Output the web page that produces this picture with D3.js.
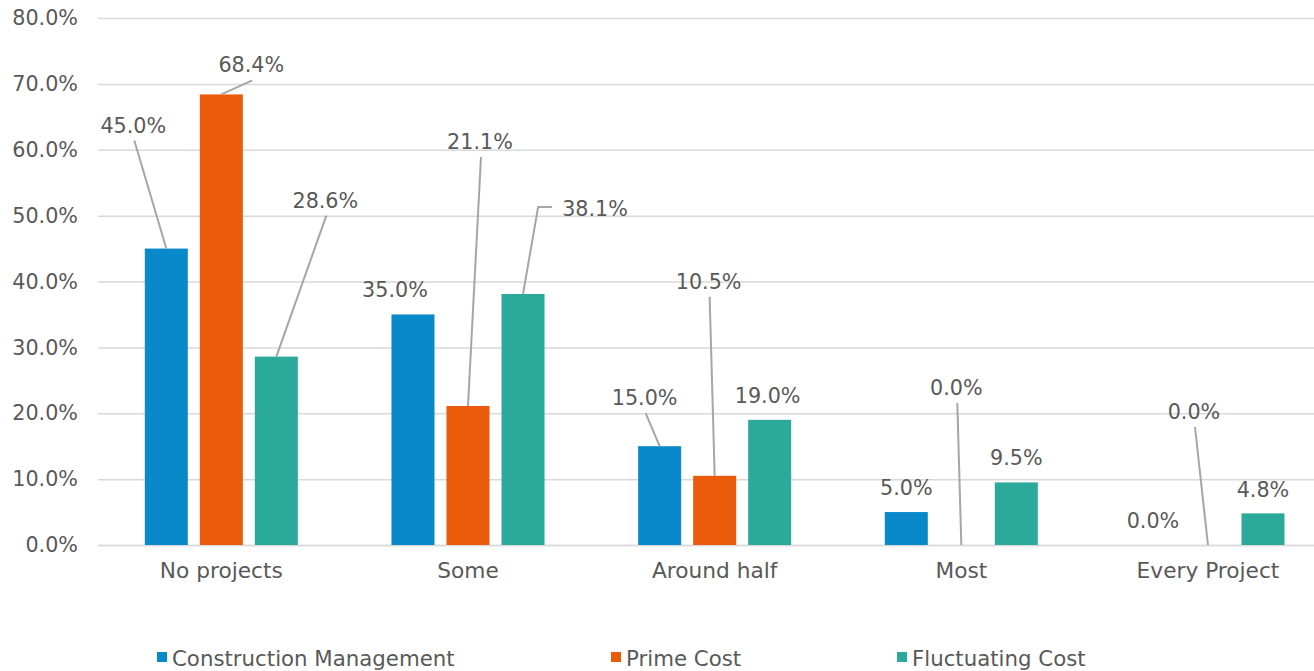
<!DOCTYPE html>
<html>
<head>
<meta charset="utf-8">
<script src="https://cdn.jsdelivr.net/npm/d3@7"></script>
<style>
  html, body { margin: 0; padding: 0; background: #fff; }
  svg { display: block; }
  text { font-family: "DejaVu Sans", sans-serif; fill: #595959; }
</style>
</head>
<body>
<svg id="chart" width="1314" height="671"></svg>
<script>
// ---- data ----
const categories = ["No projects", "Some", "Around half", "Most", "Every Project"];
const seriesNames = ["Construction Management", "Prime Cost", "Fluctuating Cost"];
const constructionManagement = [0.45, 0.35, 0.15, 0.05, 0.0];
const primeCost = [0.684, 0.211, 0.105, 0.0, 0.0];
const fluctuatingCost = [0.286, 0.381, 0.19, 0.095, 0.048];
const yTicks = [0, 0.1, 0.2, 0.3, 0.4, 0.5, 0.6, 0.7, 0.8];

// label placement (layout, pixel offsets from default position above bar)
const labelLayout = {
  "Construction Management": [[-33, -99, "bottom"], [-18, 0, null], [-15, -24, "bottom"], [0, 0, null], [0, 0, null]],
  "Prime Cost": [[30, -5, "bottom"], [12, -240, "bottom"], [-6, -170, "bottom"], [-5, -133, "bottom"], [-14, -109, "bottom"]],
  "Fluctuating Cost": [[49, -132, "bottom"], [72, -61, "elbow"], [-2, 0, null], [0, 0, null], [0, 1, null]]
};

const colors = ["#0A89CA", "#EA5C0C", "#2BA99A"];
const seriesValues = [constructionManagement, primeCost, fluctuatingCost];

const svg = d3.select("#chart");
const plotLeft = 98, plotRight = 1331.3, plotTop = 18, plotBottom = 545;

const x0 = d3.scaleBand().domain(categories).range([plotLeft, plotRight]).paddingInner(0).paddingOuter(0);
const x1 = d3.scaleBand().domain(seriesNames).range([0, x0.bandwidth()])
  .paddingInner(12 / 55).paddingOuter(46.8 / 55);
const y = d3.scaleLinear().domain([0, 0.8]).range([plotBottom, plotTop]);
const color = d3.scaleOrdinal().domain(seriesNames).range(colors);
const fmt = d3.format(".1%");

// gridlines
const yAxis = d3.axisLeft(y).tickValues(yTicks).tickFormat(fmt).tickSize(-(1314 - plotLeft)).tickPadding(20);
const gy = svg.append("g").attr("transform", `translate(${plotLeft},0)`).call(yAxis);
gy.select(".domain").remove();
gy.selectAll(".tick line").attr("stroke", "#D9D9D9").attr("stroke-width", 1.5);
gy.selectAll(".tick text").attr("font-size", 20.7).attr("fill", "#595959")
  .style("font-family", "'DejaVu Sans', sans-serif").attr("x", -20);

// x axis labels
const xAxis = d3.axisBottom(x0).tickSize(0).tickPadding(18);
const gx = svg.append("g").attr("transform", `translate(0,${plotBottom})`).call(xAxis);
gx.select(".domain").attr("stroke", "#D9D9D9").attr("stroke-width", 1.5).attr("d", `M${plotLeft},0.5H1314`);
gx.selectAll(".tick text").attr("font-size", 21.7).attr("fill", "#595959")
  .style("font-family", "'DejaVu Sans', sans-serif");

// bars
const rows = [];
seriesNames.forEach((s, si) => {
  categories.forEach((c, ci) => {
    rows.push({ series: s, cat: c, value: seriesValues[si][ci], layout: labelLayout[s][ci] });
  });
});

svg.append("g").selectAll("rect").data(rows.filter(d => d.value > 0)).join("rect")
  .attr("x", d => x0(d.cat) + x1(d.series))
  .attr("y", d => y(d.value))
  .attr("width", x1.bandwidth())
  .attr("height", d => y(0) - y(d.value))
  .attr("fill", d => color(d.series));

// labels + leaders
const leaderG = svg.append("g");
const labelG = svg.append("g");
rows.forEach(d => {
  const cx = x0(d.cat) + x1(d.series) + x1.bandwidth() / 2;
  const barTop = y(d.value);
  const lx = cx + d.layout[0];
  const ly = barTop - 17 + d.layout[1];
  const t = labelG.append("text").attr("x", lx).attr("y", ly)
    .attr("text-anchor", "middle").attr("font-size", 20.7).text(fmt(d.value));
  const kind = d.layout[2];
  if (kind === "bottom") {
    leaderG.append("path")
      .attr("d", `M${lx + 1},${ly + 8}L${cx},${barTop}`)
      .attr("stroke", "#A6A6A6").attr("stroke-width", 2).attr("fill", "none");
  } else if (kind === "elbow") {
    const w = t.node().getComputedTextLength();
    const lLeft = lx - w / 2;
    const my = ly - 9;
    leaderG.append("path")
      .attr("d", `M${lLeft - 10},${my}H${lLeft - 24}L${cx},${barTop}`)
      .attr("stroke", "#A6A6A6").attr("stroke-width", 2).attr("fill", "none");
  }
});

// legend
const legendX = [157, 611, 897];
const lg = svg.append("g");
seriesNames.forEach((s, i) => {
  lg.append("rect").attr("x", legendX[i]).attr("y", 652).attr("width", 10).attr("height", 10).attr("fill", colors[i]);
  lg.append("text").attr("x", legendX[i] + 15).attr("y", 666).attr("font-size", 21.3).text(s);
});
</script>
</body>
</html>
